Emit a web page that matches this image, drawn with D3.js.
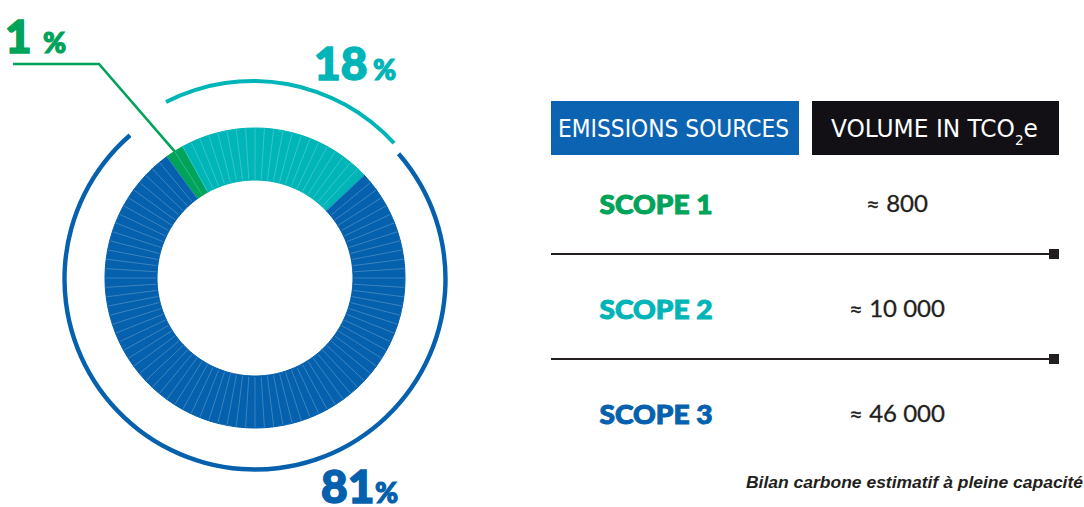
<!DOCTYPE html>
<html lang="fr">
<head>
<meta charset="UTF-8">
<title>Emissions sources</title>
<script src="https://d3js.org/d3.v7.min.js"></script>
<style>
    body, html {
        margin: 0;
        background: #ffffff;
    }
    svg {
        display: block;
    }
</style>
</head>
<body>
<svg width="1084" height="507"></svg>
<script>
    // donnees
    const scopes = ["SCOPE 1", "SCOPE 2", "SCOPE 3"];
    const volumes = ["≈ 800", "≈ 10 000", "≈ 46 000"];
    const sharePct = [1, 18, 81];
    const ringSegments = [2, 21, 77]; // nombre de segments dessines par scope (anneau de 100)
    const scopeColors = ["#00a35a", "#00b5b7", "#0561ad"];
    const headers = ["EMISSIONS SOURCES", "VOLUME IN TCO"];
    const footnote = "Bilan carbone estimatif à pleine capacité";

    const svg = d3.select("svg");
    const deg = Math.PI / 180;

    // ---------- anneau ----------
    const cx = 255, cy = 278;
    const ring = svg.append("g").attr("transform", `translate(${cx},${cy})`);

    // un segment par unite, colore selon son scope
    const segs = [];
    ringSegments.forEach((n, i) => { for (let k = 0; k < n; k++) segs.push(i); });

    const pie = d3.pie().value(1).sort(null)
        .startAngle(-36 * deg).endAngle(324 * deg);
    const arc = d3.arc().innerRadius(98).outerRadius(150);

    ring.selectAll("path.seg")
        .data(pie(segs))
        .enter().append("path")
        .attr("class", "seg")
        .attr("d", arc)
        .attr("fill", d => scopeColors[d.data])
        .attr("stroke", d => scopeColors[d.data]);

    // fines lignes claires entre segments
    ring.selectAll("line.sep")
        .data(pie(segs))
        .enter().append("line")
        .attr("x1", d => 99 * Math.sin(d.startAngle))
        .attr("y1", d => -99 * Math.cos(d.startAngle))
        .attr("x2", d => 149.5 * Math.sin(d.startAngle))
        .attr("y2", d => -149.5 * Math.cos(d.startAngle))
        .attr("stroke", "#ffffff")
        .attr("stroke-opacity", 0.3)
        .attr("stroke-width", 0.7);

    // arcs exterieurs
    const outerArc = d3.arc();
    svg.append("path")
        .attr("transform", "translate(255,279)")
        .attr("d", outerArc({innerRadius: 188.3, outerRadius: 192.7, startAngle: 48.9 * deg, endAngle: 319 * deg}))
        .attr("fill", scopeColors[2]);
    svg.append("path")
        .attr("transform", "translate(253,272)")
        .attr("d", outerArc({innerRadius: 189, outerRadius: 193, startAngle: -27.1 * deg, endAngle: 47.6 * deg}))
        .attr("fill", scopeColors[1]);

    // ligne de rappel pour le scope 1
    const g1 = pie(segs)[1];
    const ang = g1.startAngle;
    const tip = [cx + 150 * Math.sin(ang), cy - 150 * Math.cos(ang)];
    svg.append("path")
        .attr("d", d3.line()([[13, 64], [99, 64], tip]))
        .attr("fill", "none")
        .attr("stroke", scopeColors[0])
        .attr("stroke-width", 2.6);

    // pourcentages
    const pctPos = [[5, 53, 43], [314, 80, 373], [321, 503, 375]];
    sharePct.forEach((p, i) => {
        svg.append("text")
            .attr("x", pctPos[i][0]).attr("y", pctPos[i][1])
            .attr("fill", scopeColors[i])
            .attr("stroke", scopeColors[i]).attr("stroke-width", 1.6)
            .style("font-family", "Lato, sans-serif")
            .style("font-weight", 900)
            .style("font-size", "46px")
            .text(p);
        svg.append("text")
            .attr("x", pctPos[i][2]).attr("y", pctPos[i][1])
            .attr("fill", scopeColors[i])
            .attr("stroke", scopeColors[i]).attr("stroke-width", 1.2)
            .style("font-family", "Lato, sans-serif")
            .style("font-weight", 900)
            .style("font-size", "28px")
            .text("%");
    });

    // ---------- tableau ----------
    const head = svg.append("g");
    head.append("rect").attr("x", 551).attr("y", 101).attr("width", 248).attr("height", 54).attr("fill", "#0b63b2");
    head.append("rect").attr("x", 812).attr("y", 101).attr("width", 247).attr("height", 54).attr("fill", "#131015");
    head.append("text")
        .attr("x", 558).attr("y", 137)
        .attr("textLength", 231).attr("lengthAdjust", "spacingAndGlyphs")
        .attr("fill", "#fff")
        .style("font-family", "'DejaVu Sans Condensed', 'DejaVu Sans', sans-serif")
        .style("font-size", "24px")
        .text(headers[0]);
    const vh = head.append("text")
        .attr("x", 831).attr("y", 137)
        .attr("textLength", 207).attr("lengthAdjust", "spacingAndGlyphs")
        .attr("fill", "#fff")
        .style("font-family", "'DejaVu Sans Condensed', 'DejaVu Sans', sans-serif")
        .style("font-size", "24px");
    vh.append("tspan").text(headers[1]);
    vh.append("tspan").attr("dy", 8).style("font-size", "14px").text("2");
    vh.append("tspan").attr("dy", -8).text("e");

    const rowY = d3.scalePoint().domain(scopes).range([214, 424]);

    svg.selectAll("text.scope")
        .data(scopes)
        .enter().append("text")
        .attr("class", "scope")
        .attr("x", 656).attr("y", d => rowY(d))
        .attr("text-anchor", "middle")
        .attr("textLength", 113).attr("lengthAdjust", "spacingAndGlyphs")
        .attr("fill", (d, i) => scopeColors[i])
        .attr("stroke", (d, i) => scopeColors[i]).attr("stroke-width", 1)
        .style("font-family", "Lato, sans-serif")
        .style("font-weight", 900)
        .style("font-size", "27px")
        .text(d => d);

    svg.selectAll("text.vol")
        .data(volumes)
        .enter().append("text")
        .attr("class", "vol")
        .attr("x", 897).attr("y", (d, i) => rowY(scopes[i]) - 2)
        .attr("text-anchor", "middle")
        .attr("fill", "#231f20")
        .attr("stroke", "#231f20").attr("stroke-width", 0.3)
        .style("font-family", "Lato, sans-serif")
        .style("font-size", "24px")
        .text(d => d);

    // separateurs
    const seps = scopes.slice(0, 2);
    svg.selectAll("line.row")
        .data(seps)
        .enter().append("line")
        .attr("x1", 551).attr("x2", 1054)
        .attr("y1", d => rowY(d) + 40).attr("y2", d => rowY(d) + 40)
        .attr("stroke", "#231f20").attr("stroke-width", 2);
    svg.selectAll("rect.end")
        .data(seps)
        .enter().append("rect")
        .attr("x", 1049).attr("y", d => rowY(d) + 35)
        .attr("width", 10).attr("height", 10)
        .attr("fill", "#231f20");

    svg.append("text")
        .attr("x", 746).attr("y", 488)
        .attr("textLength", 337).attr("lengthAdjust", "spacingAndGlyphs")
        .attr("fill", "#231f20")
        .style("font-family", "'Liberation Sans', Arial, sans-serif")
        .style("font-weight", "bold")
        .style("font-style", "italic")
        .style("font-size", "17px")
        .text(footnote);
</script>
</body>
</html>
